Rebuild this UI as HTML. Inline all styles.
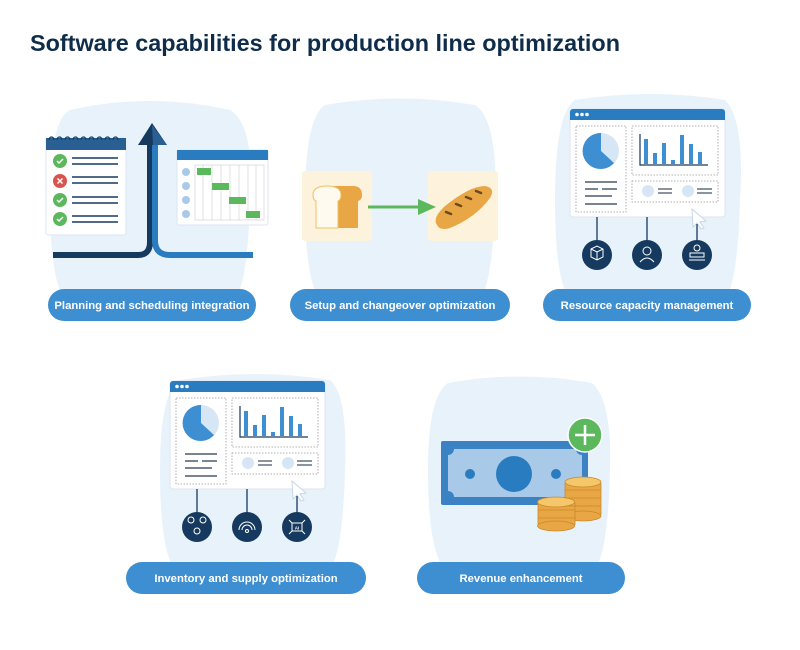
<!DOCTYPE html>
<html><head><meta charset="utf-8"><style>
html,body{margin:0;padding:0;background:#fff;}
svg{display:block;font-family:"Liberation Sans",sans-serif;}
</style></head><body>
<svg width="800" height="650" viewBox="0 0 800 650" xmlns="http://www.w3.org/2000/svg">
<defs>
<g id="dash">
  <rect x="0" y="0" width="155" height="108" rx="3" fill="#fff" stroke="#dde6f0"/>
  <path d="M0 11 V3 a3 3 0 0 1 3 -3 H152 a3 3 0 0 1 3 3 V11 Z" fill="#2a7cc0"/>
  <circle cx="7" cy="5.5" r="1.8" fill="#fff"/><circle cx="12" cy="5.5" r="1.8" fill="#fff"/><circle cx="17" cy="5.5" r="1.8" fill="#fff"/>
  <rect x="6" y="17" width="50" height="86" fill="none" stroke="#999" stroke-width="0.8" stroke-dasharray="1.5,1.5"/>
  <rect x="62" y="17" width="86" height="49" fill="none" stroke="#999" stroke-width="0.8" stroke-dasharray="1.5,1.5"/>
  <rect x="62" y="72" width="86" height="21" fill="none" stroke="#999" stroke-width="0.8" stroke-dasharray="1.5,1.5"/>
  <circle cx="31" cy="42" r="18" fill="#d6e6f5"/>
  <path d="M31 42 V24 A18 18 0 1 0 44 54 Z" fill="#3d8fd1"/>
  <g stroke="#4a5a6a" stroke-width="1.5"><line x1="15" y1="73" x2="47" y2="73"/><line x1="15" y1="80" x2="28" y2="80"/><line x1="32" y1="80" x2="47" y2="80"/><line x1="15" y1="87" x2="42" y2="87"/><line x1="15" y1="95" x2="47" y2="95"/></g>
  <g fill="#3d8fd1"><rect x="74" y="30" width="4" height="25"/><rect x="83" y="44" width="4" height="11"/><rect x="92" y="34" width="4" height="21"/><rect x="101" y="51" width="4" height="4"/><rect x="110" y="26" width="4" height="29"/><rect x="119" y="35" width="4" height="20"/><rect x="128" y="43" width="4" height="12"/></g>
  <path d="M70 25 V56 H138" fill="none" stroke="#163a5f" stroke-width="1.2"/>
  <circle cx="78" cy="82" r="6" fill="#d6e6f5"/><circle cx="118" cy="82" r="6" fill="#d6e6f5"/>
  <g stroke="#4a5a6a" stroke-width="1.3"><line x1="88" y1="80" x2="102" y2="80"/><line x1="88" y1="84" x2="102" y2="84"/><line x1="127" y1="80" x2="142" y2="80"/><line x1="127" y1="84" x2="142" y2="84"/></g>
  <path d="M122 100 L136 112 L130 113 L134 119 L131 120 L127 114 L123 118 Z" fill="#fff" stroke="#c8d6e6"/>
  <g stroke="#163a5f" stroke-width="1.3"><line x1="27" y1="108" x2="27" y2="132"/><line x1="77" y1="108" x2="77" y2="132"/><line x1="127" y1="115" x2="127" y2="132"/></g>
  <circle cx="27" cy="146" r="15" fill="#163a5f"/><circle cx="77" cy="146" r="15" fill="#163a5f"/><circle cx="127" cy="146" r="15" fill="#163a5f"/>
</g>
</defs>
<text x="30" y="51" font-size="23" font-weight="bold" fill="#0f2d4a" textLength="590" lengthAdjust="spacingAndGlyphs">Software capabilities for production line optimization</text>

<!-- blobs -->
<g fill="#e8f2fb">
<path d="M70 110 Q150 92 230 110 Q255 125 250 200 Q248 280 235 300 H65 Q50 280 50 200 Q50 120 70 110Z"/>
<path d="M325 105 Q400 92 475 105 Q498 120 495 200 Q493 280 480 300 H320 Q305 280 305 200 Q305 118 325 105Z"/>
<path d="M575 100 Q650 88 725 100 Q745 120 740 200 Q738 280 725 300 H570 Q555 280 555 200 Q555 113 575 100Z"/>
<path d="M180 380 Q255 368 330 380 Q348 395 345 470 Q343 550 330 570 H175 Q160 550 160 470 Q160 392 180 380Z"/>
<path d="M448 383 Q520 370 592 383 Q612 400 610 470 Q608 550 595 570 H445 Q428 550 428 470 Q428 396 448 383Z"/>
</g>

<!-- panel1 -->
<rect x="46" y="138" width="80" height="97" rx="2" fill="#fff" stroke="#dde6f0"/>
<rect x="46" y="138" width="80" height="12" fill="#2a5f94"/>
<g fill="none" stroke="#163a5f" stroke-width="1.3">
<path d="M49 140 a2.5 3 0 0 1 5 0"/><path d="M57 140 a2.5 3 0 0 1 5 0"/><path d="M65 140 a2.5 3 0 0 1 5 0"/><path d="M73 140 a2.5 3 0 0 1 5 0"/><path d="M81 140 a2.5 3 0 0 1 5 0"/><path d="M89 140 a2.5 3 0 0 1 5 0"/><path d="M97 140 a2.5 3 0 0 1 5 0"/><path d="M105 140 a2.5 3 0 0 1 5 0"/><path d="M113 140 a2.5 3 0 0 1 5 0"/>
</g>
<circle cx="60" cy="161" r="7" fill="#5cb85c"/><circle cx="60" cy="181" r="7" fill="#d9534f"/><circle cx="60" cy="200" r="7" fill="#5cb85c"/><circle cx="60" cy="219" r="7" fill="#5cb85c"/>
<g stroke="#fff" stroke-width="1.5" fill="none"><path d="M57 161 l2 2 l4 -4"/><path d="M57 200 l2 2 l4 -4"/><path d="M57 219 l2 2 l4 -4"/><path d="M57.5 178.5 l5 5 M62.5 178.5 l-5 5"/></g>
<g stroke="#163a5f" stroke-width="1.6"><line x1="72" y1="158" x2="118" y2="158"/><line x1="72" y1="164" x2="118" y2="164"/><line x1="72" y1="177" x2="118" y2="177"/><line x1="72" y1="183" x2="118" y2="183"/><line x1="72" y1="197" x2="118" y2="197"/><line x1="72" y1="203" x2="118" y2="203"/><line x1="72" y1="216" x2="118" y2="216"/><line x1="72" y1="222" x2="118" y2="222"/></g>
<path d="M53 255 H138 Q150 255 150 242 V138" fill="none" stroke="#163a5f" stroke-width="6"/>
<path d="M253 255 H170 Q156 255 155 242 V140" fill="none" stroke="#2a7cc0" stroke-width="6"/>
<path d="M138 145 L152 123 L167 145 Z" fill="#163a5f"/>
<path d="M153 145 L152 125 L167 145 Z" fill="#2a5f94"/>
<rect x="177" y="150" width="91" height="75" rx="2" fill="#fff" stroke="#dde6f0"/>
<rect x="177" y="150" width="91" height="10" fill="#2a7cc0"/>
<rect x="195" y="165" width="69" height="55" fill="none" stroke="#ccc" stroke-width="0.6"/>
<g stroke="#ccc" stroke-width="0.6"><line x1="203" y1="165" x2="203" y2="220"/><line x1="212" y1="165" x2="212" y2="220"/><line x1="221" y1="165" x2="221" y2="220"/><line x1="230" y1="165" x2="230" y2="220"/><line x1="239" y1="165" x2="239" y2="220"/><line x1="248" y1="165" x2="248" y2="220"/><line x1="256" y1="165" x2="256" y2="220"/></g>
<g fill="#5cb85c"><rect x="197" y="168" width="14" height="7"/><rect x="212" y="183" width="17" height="7"/><rect x="229" y="197" width="17" height="7"/><rect x="246" y="211" width="14" height="7"/></g>
<g fill="#a9c9e8"><circle cx="186" cy="172" r="4"/><circle cx="186" cy="186" r="4"/><circle cx="186" cy="200" r="4"/><circle cx="186" cy="214" r="4"/></g>

<!-- panel2 -->
<rect x="302" y="171" width="70" height="70" rx="3" fill="#fdf3dc"/>
<rect x="428" y="171" width="70" height="70" rx="3" fill="#fdf3dc"/>
<path d="M313 195 Q313 186 330 186 H353 Q362 186 362 195 Q362 200 358 201 V228 H316 V201 Q313 200 313 195Z" fill="#e8a645"/>
<path d="M313 195 Q313 186 327 186 Q341 186 341 195 Q341 200 338 201 V228 H316 V201 Q313 200 313 195Z" fill="#fffaf0" stroke="#f0c060"/>
<line x1="368" y1="207" x2="422" y2="207" stroke="#5cb85c" stroke-width="3"/>
<path d="M418 199 L436 207 L418 215 Z" fill="#5cb85c"/>
<path d="M437 225 Q432 218 445 206 Q470 186 485 186 Q496 188 490 198 Q475 218 450 228 Q440 231 437 225Z" fill="#e8a645"/>
<g stroke="#6a4a20" stroke-width="2.5" stroke-linecap="round"><line x1="446" y1="212" x2="451" y2="214"/><line x1="456" y1="204" x2="461" y2="206"/><line x1="466" y1="197" x2="471" y2="199"/><line x1="476" y1="191" x2="481" y2="193"/></g>

<!-- panel3 & panel4 -->
<use href="#dash" x="570" y="109"/>
<use href="#dash" x="170" y="381"/>
<g stroke="#fff" stroke-width="1" fill="none">
<path d="M591 249 l6 -3 l6 3 v8 l-6 3 l-6 -3 z M591 249 l6 3 l6 -3 M597 252 v8"/>
<circle cx="647" cy="251" r="4"/><path d="M640 262 q7 -8 14 0"/>
<circle cx="697" cy="248" r="3"/><rect x="690" y="253" width="14" height="4"/><path d="M689 260 h16"/>
<circle cx="191" cy="520" r="3"/><circle cx="203" cy="520" r="3"/><circle cx="197" cy="531" r="3"/>
<path d="M239 530 a8 8 0 0 1 16 0 M242 530 a5 5 0 0 1 10 0"/><circle cx="247" cy="531" r="1.5"/>
<rect x="292" y="523" width="10" height="8"/><path d="M289 520 l3 3 M305 520 l-3 3 M289 534 l3 -3 M305 534 l-3 -3"/>
</g>
<text x="297" y="529.5" font-size="4.5" fill="#fff" text-anchor="middle" font-weight="bold">AI</text>

<!-- panel5 -->
<rect x="441" y="441" width="147" height="64" rx="2" fill="#3a82c4"/>
<path d="M448 449 H582 V497 H448 Z" fill="#a9c9e8"/>
<circle cx="448" cy="449" r="6" fill="#3a82c4"/><circle cx="582" cy="449" r="6" fill="#3a82c4"/><circle cx="448" cy="497" r="6" fill="#3a82c4"/><circle cx="582" cy="497" r="6" fill="#3a82c4"/>
<circle cx="514" cy="474" r="18" fill="#2a7cc0"/><circle cx="470" cy="474" r="5" fill="#2a7cc0"/><circle cx="556" cy="474" r="5" fill="#2a7cc0"/>
<circle cx="585" cy="435" r="17" fill="#5cb85c" stroke="#fff" stroke-width="1.5"/>
<path d="M585 425 V445 M575 435 H595" stroke="#fff" stroke-width="2.5"/>
<g fill="#e8a645" stroke="#c98a2a" stroke-width="0.8">
<rect x="565" y="482" width="36" height="34" rx="2"/>
<ellipse cx="583" cy="516" rx="18" ry="5"/>
<ellipse cx="583" cy="482" rx="18" ry="5" fill="#f5c66a"/>
<rect x="538" y="502" width="37" height="24" rx="2"/>
<ellipse cx="556" cy="526" rx="18.5" ry="5"/>
<ellipse cx="556" cy="502" rx="18.5" ry="5" fill="#f5c66a"/>
</g>
<g stroke="#c98a2a" stroke-width="0.8"><line x1="565" y1="490" x2="601" y2="490"/><line x1="565" y1="498" x2="601" y2="498"/><line x1="565" y1="506" x2="601" y2="506"/><line x1="538" y1="510" x2="575" y2="510"/><line x1="538" y1="518" x2="575" y2="518"/></g>

<!-- pills -->
<g fill="#3d8fd1">
<rect x="48" y="289" width="208" height="32" rx="16"/>
<rect x="290" y="289" width="220" height="32" rx="16"/>
<rect x="543" y="289" width="208" height="32" rx="16"/>
<rect x="126" y="562" width="240" height="32" rx="16"/>
<rect x="417" y="562" width="208" height="32" rx="16"/>
</g>
<g fill="#fff" font-size="11.3" font-weight="bold" text-anchor="middle">
<text x="152" y="309">Planning and scheduling integration</text>
<text x="400" y="309">Setup and changeover optimization</text>
<text x="647" y="309">Resource capacity management</text>
<text x="246" y="582">Inventory and supply optimization</text>
<text x="521" y="582">Revenue enhancement</text>
</g>
</svg>
</body></html>
